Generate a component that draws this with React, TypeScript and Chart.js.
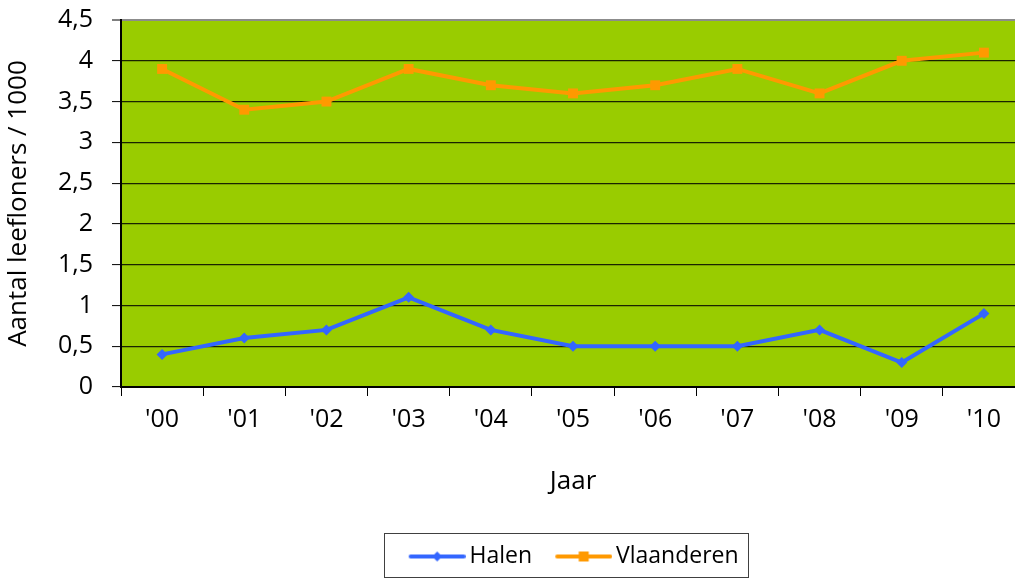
import React, { useEffect, useRef } from "react";
import { Chart, registerables } from "chart.js";

Chart.register(...registerables);

const categories = ["'00", "'01", "'02", "'03", "'04", "'05", "'06", "'07", "'08", "'09", "'10"];
const halen = [0.4, 0.6, 0.7, 1.1, 0.7, 0.5, 0.5, 0.5, 0.7, 0.3, 0.9];
const vlaanderen = [3.9, 3.4, 3.5, 3.9, 3.7, 3.6, 3.7, 3.9, 3.6, 4.0, 4.1];
const seriesNames = ["Halen", "Vlaanderen"];
const yAxisTitle = "Aantal leefloners / 1000";
const xAxisTitle = "Jaar";

const BLUE = "#3366FF";
const ORANGE = "#FF9900";
const FONT = "'Open Sans', 'DejaVu Sans', sans-serif";

const CANVAS_W = 1136;
const CANVAS_H = 581;

function legendImage(color: string, square: boolean): HTMLCanvasElement {
  const c = document.createElement("canvas");
  c.width = 76;
  c.height = 14;
  const ctx = c.getContext("2d")!;
  const x0 = 20;
  const x1 = 75;
  const cy = 7;
  ctx.strokeStyle = color;
  ctx.lineWidth = 4;
  ctx.lineCap = "round";
  ctx.beginPath();
  ctx.moveTo(x0 + 1, cy);
  ctx.lineTo(x1 - 1, cy);
  ctx.stroke();
  ctx.fillStyle = color;
  const mx = (x0 + x1) / 2;
  if (square) {
    ctx.fillRect(mx - 5, cy - 5, 10, 10);
  } else {
    ctx.beginPath();
    ctx.moveTo(mx, cy - 5);
    ctx.lineTo(mx + 5, cy);
    ctx.lineTo(mx, cy + 5);
    ctx.lineTo(mx - 5, cy);
    ctx.closePath();
    ctx.fill();
  }
  return c;
}

export default function App() {
  const ref = useRef<HTMLCanvasElement | null>(null);

  useEffect(() => {
    if (!ref.current) return;
    const imgs = [legendImage(BLUE, false), legendImage(ORANGE, true)];

    const plotBg = {
      id: "plotBg",
      beforeDraw(chart: any) {
        const { ctx, chartArea } = chart;
        ctx.save();
        ctx.fillStyle = "#99CC00";
        ctx.fillRect(chartArea.left, chartArea.top, chartArea.right - chartArea.left, chartArea.bottom - chartArea.top);
        ctx.restore();
      },
    };

    const legendBorder = {
      id: "legendBorder",
      afterDraw(chart: any) {
        const lg = chart.legend;
        if (!lg || !lg.legendHitBoxes || !lg.legendHitBoxes.length) return;
        const boxes = lg.legendHitBoxes;
        const left = Math.min(...boxes.map((b: any) => b.left)) - 13;
        const right = Math.max(...boxes.map((b: any) => b.left + b.width)) + 10;
        const ctx = chart.ctx;
        ctx.save();
        ctx.strokeStyle = "#404040";
        ctx.lineWidth = 1;
        ctx.strokeRect(Math.round(left) + 0.5, Math.round(lg.top) + 0.5, Math.round(right - left), Math.round(lg.bottom - lg.top) - 1);
        ctx.restore();
      },
    };

    const chart = new Chart(ref.current, {
      type: "line",
      data: {
        labels: categories,
        datasets: [
          {
            label: seriesNames[0],
            data: halen,
            borderColor: BLUE,
            backgroundColor: BLUE,
            borderWidth: 4,
            pointStyle: "rectRot",
            pointRadius: 5.5,
            pointBorderWidth: 0,
            tension: 0,
            yAxisID: "y",
          },
          {
            label: seriesNames[1],
            data: vlaanderen,
            borderColor: ORANGE,
            backgroundColor: ORANGE,
            borderWidth: 4,
            pointStyle: "rect",
            pointRadius: 7,
            pointBorderWidth: 0,
            tension: 0,
            yAxisID: "y",
          },
        ],
      },
      plugins: [plotBg, legendBorder],
      options: {
        animation: false,
        responsive: false,
        maintainAspectRatio: false,
        devicePixelRatio: 1,
        layout: { padding: { top: 20, right: 0, bottom: 3, left: 0 } },
        plugins: {
          tooltip: { enabled: false },
          legend: {
            display: true,
            position: "bottom",
            labels: {
              usePointStyle: true,
              pointStyleWidth: 60.5,
              padding: 12,
              color: "#000",
              font: { family: FONT, size: 23 },
              generateLabels: () =>
                seriesNames.map((n, i) => ({
                  text: n,
                  pointStyle: imgs[i],
                  fillStyle: i === 0 ? BLUE : ORANGE,
                  strokeStyle: i === 0 ? BLUE : ORANGE,
                  lineWidth: 0,
                  hidden: false,
                  datasetIndex: i,
                })),
            },
          },
        },
        scales: {
          x: {
            type: "category",
            offset: true,
            afterFit: (s: any) => {
              s.height = 146;
            },
            grid: {
              display: true,
              drawOnChartArea: false,
              drawTicks: true,
              offset: true,
              tickLength: 9,
              tickColor: "#000",
              tickWidth: 1,
            },
            border: { display: true, color: "#000", width: 2 },
            ticks: {
              color: "#000",
              font: { family: FONT, size: 25 },
              padding: 9,
              maxRotation: 0,
              autoSkip: false,
            },
            title: {
              display: true,
              text: xAxisTitle,
              color: "#000",
              font: { family: FONT, size: 26 },
              padding: { top: 0, bottom: 36 },
            },
          },
          y: {
            min: 0,
            max: 4.5,
            position: "left",
            afterFit: (s: any) => {
              s.width = 121;
              s.paddingTop = 0;
              s.paddingBottom = 0;
            },
            grid: {
              color: (c: any) => (c.tick && c.tick.value === 4.5 ? "#8c8c8c" : "#1a2400"),
              lineWidth: (c: any) => (c.tick && c.tick.value === 4.5 ? 2 : 1.2),
              tickLength: 9,
              tickColor: "#000",
              tickWidth: 1,
            },
            border: { display: true, color: "#000", width: 2 },
            ticks: {
              stepSize: 0.5,
              color: "#000",
              font: { family: FONT, size: 25 },
              padding: 19,
              callback: (v: any) => String(v).replace(".", ","),
            },
            title: {
              display: true,
              text: yAxisTitle,
              color: "#000",
              font: { family: FONT, size: 26 },
              padding: { top: 3, bottom: 0 },
            },
          },
          spacer: {
            type: "linear",
            position: "right",
            display: true,
            afterFit: (s: any) => {
              s.width = 111;
              s.paddingTop = 0;
              s.paddingBottom = 0;
            },
            grid: { display: false, drawTicks: false },
            border: { display: false },
            ticks: { display: false },
            title: { display: false },
          },
        },
      },
    } as any);

    return () => chart.destroy();
  }, []);

  return (
    <div
      style={{
        position: "fixed",
        left: 0,
        top: 0,
        width: 1015,
        height: 581,
        overflow: "hidden",
        background: "#fff",
      }}
    >
      <canvas
        ref={ref}
        width={CANVAS_W}
        height={CANVAS_H}
        style={{ display: "block", width: CANVAS_W, height: CANVAS_H }}
      />
    </div>
  );
}
